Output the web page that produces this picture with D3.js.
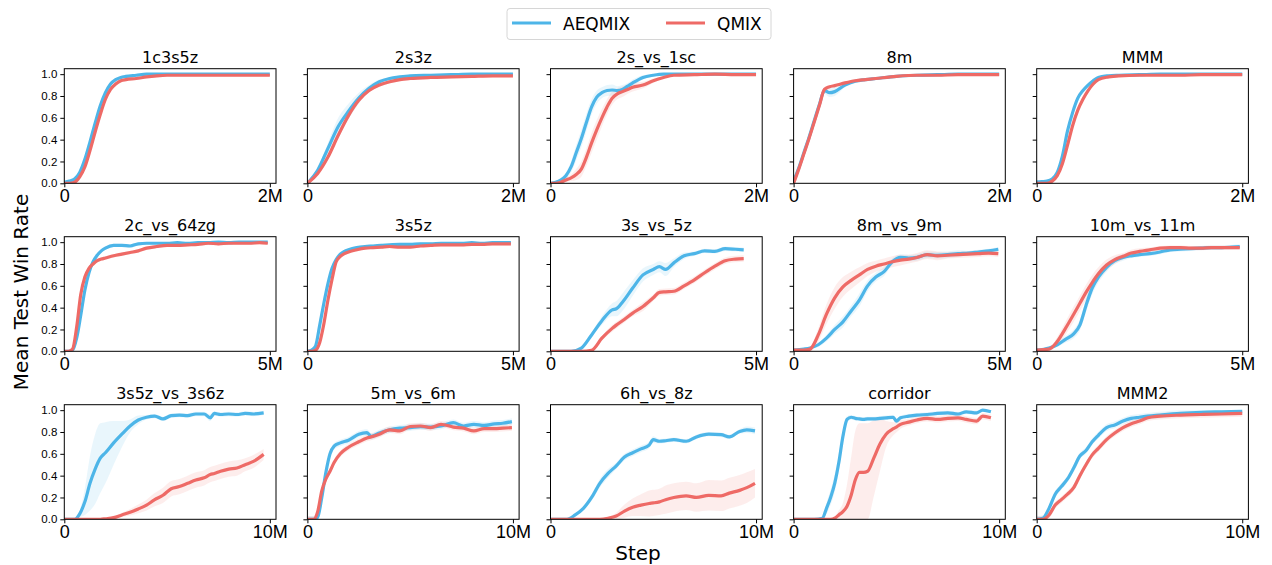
<!DOCTYPE html>
<html>
<head>
<meta charset="utf-8">
<script src="https://cdn.jsdelivr.net/npm/d3@7"></script>
<style>
  body { margin: 0; background: #fff; }
  svg { font-family: "DejaVu Sans", sans-serif; }
</style>
</head>
<body>
<div id="chart"></div>
<script>
// map names, x limit in millions of steps
const maps = ['1c3s5z', '2s3z', '2s_vs_1sc', '8m', 'MMM',
              '2c_vs_64zg', '3s5z', '3s_vs_5z', '8m_vs_9m', '10m_vs_11m',
              '3s5z_vs_3s6z', '5m_vs_6m', '6h_vs_8z', 'corridor', 'MMM2'];
const xMax = [2, 2, 2, 2, 2, 5, 5, 5, 5, 5, 10, 10, 10, 10, 10];
const yTicks = [0, 0.2, 0.4, 0.6, 0.8, 1.0];

// steps (M), AEQMIX mean, QMIX mean, band half-widths
const steps_1c3s5z = [0,0.05,0.1,0.15,0.2,0.25,0.3,0.35,0.4,0.45,0.5,0.55,0.6,0.7,0.8,0.9,1.0,1.2,1.4,1.6,1.8,2.0];
const aeq_1c3s5z  = [0.01,0.02,0.04,0.10,0.22,0.38,0.55,0.71,0.83,0.91,0.95,0.97,0.98,0.99,1.0,1.0,1.0,1.0,1.0,1.0,1.0,1.0];
const qmix_1c3s5z = [0,0,0.01,0.06,0.15,0.30,0.47,0.63,0.77,0.86,0.91,0.94,0.95,0.96,0.975,0.985,0.99,0.99,0.99,0.99,0.99,0.99];

const steps_2s3z = [0,0.1,0.2,0.3,0.4,0.5,0.6,0.7,0.8,0.9,1.0,1.2,1.4,1.6,1.8,2.0];
const aeq_2s3z  = [0,0.12,0.32,0.52,0.66,0.78,0.87,0.93,0.96,0.975,0.985,0.99,0.995,1.0,1.0,1.0];
const qmix_2s3z = [0,0.09,0.24,0.44,0.62,0.76,0.85,0.9,0.93,0.95,0.96,0.97,0.975,0.98,0.985,0.985];
const aeqBand_2s3z = [0,0.02,0.05,0.08,0.07,0.05,0.03,0.02,0.01,0.01,0,0,0,0,0,0];

const steps_2s_vs_1sc = [0,0.05,0.1,0.15,0.2,0.25,0.3,0.35,0.4,0.45,0.5,0.55,0.6,0.65,0.7,0.75,0.8,0.9,1.0,1.1,1.2,1.4,1.6,1.8,2.0];
const aeq_2s_vs_1sc  = [0,0.01,0.03,0.07,0.15,0.28,0.41,0.56,0.70,0.79,0.83,0.85,0.855,0.85,0.86,0.89,0.92,0.97,0.99,1.0,1.0,1.0,1.0,1.0,1.0];
const qmix_2s_vs_1sc = [0,0,0.01,0.03,0.05,0.08,0.13,0.24,0.37,0.49,0.60,0.70,0.78,0.82,0.84,0.86,0.88,0.9,0.94,0.97,0.99,0.995,1.0,0.995,0.995];
const aeqBand_2s_vs_1sc  = [0,0.01,0.02,0.03,0.05,0.07,0.08,0.08,0.07,0.06,0.05,0.05,0.05,0.04,0.04,0.03,0.03,0.02,0.01,0,0,0,0,0,0];
const qmixBand_2s_vs_1sc = [0,0,0.01,0.02,0.03,0.05,0.07,0.08,0.09,0.09,0.08,0.07,0.06,0.05,0.05,0.04,0.04,0.03,0.02,0.01,0.01,0,0,0,0];

const steps_8m = [0,0.05,0.1,0.15,0.2,0.25,0.3,0.35,0.4,0.5,0.6,0.7,0.8,1.0,1.2,1.4,1.6,1.8,2.0];
const aeq_8m  = [0.02,0.14,0.28,0.42,0.57,0.72,0.85,0.83,0.84,0.9,0.935,0.95,0.96,0.98,0.99,0.995,1.0,1.0,1.0];
const qmix_8m = [0,0.13,0.27,0.41,0.56,0.71,0.86,0.885,0.895,0.92,0.94,0.95,0.96,0.98,0.99,0.99,0.995,0.995,0.995];
const aeqBand_8m = [0,0.01,0.01,0.01,0.01,0.02,0.03,0.04,0.04,0.02,0.01,0.01,0.01,0,0,0,0,0,0];

const steps_MMM = [0,0.05,0.1,0.15,0.2,0.25,0.3,0.35,0.4,0.45,0.5,0.55,0.6,0.7,0.8,1.0,1.2,1.4,1.6,1.8,2.0];
const aeq_MMM  = [0.01,0.015,0.02,0.04,0.10,0.25,0.48,0.65,0.78,0.85,0.90,0.94,0.97,0.985,0.99,0.995,1.0,1.0,1.0,1.0,1.0];
const qmix_MMM = [0,0,0,0.02,0.07,0.18,0.35,0.53,0.67,0.77,0.85,0.91,0.95,0.975,0.985,0.99,0.99,0.99,0.995,0.995,0.995];

const steps_2c_vs_64zg = [0,0.1,0.2,0.3,0.4,0.5,0.6,0.7,0.8,0.9,1.0,1.2,1.4,1.6,1.8,2.0,2.25,2.5,2.75,3.0,3.25,3.5,3.75,4.0,4.25,4.5,4.75,4.95];
const aeq_2c_vs_64zg  = [0,0,0.01,0.12,0.33,0.56,0.72,0.82,0.88,0.92,0.945,0.97,0.97,0.965,0.985,0.99,0.99,0.99,0.995,0.99,0.995,0.995,1.0,0.995,1.0,1.0,1.0,1.0];
const qmix_2c_vs_64zg = [0,0,0.02,0.22,0.52,0.68,0.76,0.80,0.83,0.845,0.855,0.875,0.89,0.905,0.92,0.945,0.96,0.97,0.97,0.975,0.98,0.99,0.985,0.99,0.99,0.99,0.995,0.99];

const steps_3s5z = [0,0.1,0.2,0.3,0.4,0.5,0.6,0.7,0.8,0.9,1.0,1.2,1.4,1.6,1.8,2.0,2.25,2.5,2.75,3.0,3.25,3.5,3.75,4.0,4.25,4.5,4.75,4.95];
const aeq_3s5z  = [0,0.01,0.05,0.24,0.44,0.62,0.76,0.84,0.89,0.915,0.93,0.95,0.96,0.965,0.97,0.975,0.98,0.98,0.985,0.985,0.99,0.99,0.99,0.995,0.99,0.995,0.995,0.995];
const qmix_3s5z = [0,0,0.01,0.08,0.25,0.47,0.66,0.82,0.87,0.895,0.91,0.93,0.945,0.95,0.955,0.96,0.955,0.955,0.965,0.97,0.975,0.975,0.975,0.98,0.98,0.985,0.985,0.985];

const steps_3s_vs_5z = [0,0.25,0.5,0.75,1.0,1.25,1.5,1.6,1.75,2.0,2.25,2.5,2.65,2.8,3.0,3.25,3.5,3.75,4.0,4.25,4.5,4.7];
const aeq_3s_vs_5z  = [0,0,0,0.03,0.15,0.28,0.38,0.39,0.45,0.58,0.70,0.75,0.775,0.75,0.81,0.875,0.895,0.92,0.915,0.94,0.935,0.93];
const qmix_3s_vs_5z = [0,0,0,0,0.01,0.12,0.21,0.24,0.28,0.35,0.41,0.49,0.54,0.545,0.55,0.6,0.655,0.72,0.78,0.83,0.845,0.85];
const aeqBand_3s_vs_5z  = [0,0,0,0.01,0.02,0.04,0.06,0.07,0.08,0.07,0.06,0.05,0.05,0.06,0.04,0.03,0.02,0.02,0.02,0.02,0.02,0.02];
const qmixBand_3s_vs_5z = [0,0,0,0,0.01,0.02,0.03,0.03,0.03,0.03,0.04,0.03,0.03,0.03,0.03,0.03,0.03,0.03,0.03,0.03,0.03,0.03];

const steps_8m_vs_9m = [0,0.25,0.4,0.6,0.8,1.0,1.2,1.4,1.6,1.8,2.0,2.2,2.4,2.6,2.8,3.0,3.25,3.5,3.75,4.0,4.25,4.5,4.75,4.98];
const aeq_8m_vs_9m  = [0.01,0.02,0.03,0.06,0.12,0.2,0.27,0.37,0.47,0.6,0.68,0.73,0.82,0.86,0.855,0.86,0.885,0.88,0.885,0.895,0.90,0.91,0.92,0.935];
const qmix_8m_vs_9m = [0.01,0.01,0.02,0.15,0.34,0.49,0.59,0.65,0.70,0.75,0.78,0.80,0.82,0.835,0.845,0.86,0.885,0.875,0.88,0.885,0.89,0.895,0.9,0.895];
const aeqBand_8m_vs_9m  = [0,0.01,0.01,0.02,0.03,0.04,0.05,0.05,0.06,0.05,0.04,0.04,0.03,0.03,0.03,0.03,0.03,0.03,0.03,0.03,0.02,0.02,0.02,0.02];
const qmixBand_8m_vs_9m = [0,0.01,0.02,0.06,0.09,0.1,0.09,0.08,0.07,0.06,0.05,0.05,0.05,0.05,0.04,0.04,0.04,0.04,0.03,0.03,0.03,0.03,0.03,0.03];

const steps_10m_vs_11m = [0,0.3,0.5,0.7,0.9,1.05,1.2,1.35,1.5,1.7,1.9,2.1,2.3,2.5,2.75,3.0,3.25,3.5,3.75,4.0,4.25,4.5,4.75,4.94];
const aeq_10m_vs_11m  = [0.01,0.03,0.06,0.11,0.16,0.24,0.42,0.58,0.68,0.77,0.83,0.86,0.875,0.885,0.895,0.91,0.93,0.935,0.94,0.945,0.95,0.95,0.955,0.96];
const qmix_10m_vs_11m = [0.01,0.02,0.09,0.21,0.34,0.44,0.54,0.63,0.71,0.79,0.84,0.87,0.9,0.915,0.93,0.945,0.95,0.95,0.945,0.945,0.95,0.95,0.95,0.95];
const aeqBand_10m_vs_11m  = [0,0.01,0.02,0.03,0.04,0.05,0.06,0.06,0.05,0.04,0.03,0.03,0.02,0.02,0.02,0.02,0.02,0.02,0.02,0.02,0.02,0.02,0.02,0.02];
const qmixBand_10m_vs_11m = [0,0.01,0.04,0.06,0.07,0.07,0.07,0.07,0.06,0.05,0.04,0.03,0.03,0.03,0.02,0.02,0.02,0.02,0.02,0.02,0.02,0.02,0.02,0.02];

const steps_3s5z_vs_3s6z = [0,0.5,0.75,1.0,1.25,1.5,1.75,2.0,2.4,2.8,3.2,3.6,4.0,4.4,4.8,5.2,5.6,6.0,6.4,6.8,7.1,7.3,7.6,8.0,8.4,8.8,9.2,9.7];
const aeq_3s5z_vs_3s6z  = [0,0,0.05,0.16,0.33,0.46,0.56,0.61,0.70,0.78,0.855,0.91,0.935,0.945,0.92,0.95,0.955,0.95,0.965,0.965,0.93,0.97,0.96,0.965,0.96,0.97,0.965,0.975];
const qmix_3s5z_vs_3s6z = [0,0,0,0,0,0,0,0.005,0.015,0.04,0.065,0.095,0.13,0.18,0.22,0.28,0.3,0.33,0.36,0.38,0.41,0.42,0.44,0.46,0.47,0.5,0.53,0.595];
const aeqBand_3s5z_vs_3s6z  = [0,0,0.03,0.12,0.25,0.32,0.32,0.28,0.2,0.12,0.06,0.04,0.02,0.02,0.02,0.02,0.02,0.02,0.02,0.02,0.03,0.02,0.02,0.02,0.02,0.02,0.02,0.02];
const qmixBand_3s5z_vs_3s6z = [0,0,0,0,0,0,0,0.005,0.01,0.02,0.03,0.04,0.05,0.06,0.07,0.07,0.07,0.07,0.07,0.07,0.07,0.07,0.07,0.07,0.07,0.06,0.06,0.05];

const steps_5m_vs_6m = [0,0.3,0.5,0.7,0.9,1.1,1.3,1.6,2.0,2.5,2.9,3.1,3.5,4.0,4.5,5.0,5.5,6.0,6.5,7.1,7.6,8.1,8.6,9.1,9.5,9.95];
const aeq_5m_vs_6m  = [0,0,0.02,0.2,0.43,0.6,0.67,0.70,0.725,0.78,0.795,0.76,0.79,0.82,0.835,0.84,0.85,0.845,0.855,0.885,0.855,0.87,0.86,0.875,0.88,0.895];
const qmix_5m_vs_6m = [0,0,0.07,0.26,0.37,0.44,0.52,0.6,0.66,0.71,0.745,0.755,0.78,0.82,0.81,0.85,0.855,0.84,0.87,0.845,0.835,0.81,0.83,0.83,0.835,0.84];

const steps_6h_vs_8z = [0,0.8,1.2,1.6,2.0,2.4,2.8,3.2,3.6,4.0,4.4,4.8,5.0,5.3,5.6,6.0,6.6,7.1,7.7,8.3,8.7,9.2,9.55,9.95];
const aeq_6h_vs_8z  = [0,0,0.04,0.1,0.2,0.33,0.42,0.49,0.57,0.61,0.645,0.68,0.73,0.715,0.72,0.73,0.715,0.755,0.78,0.775,0.755,0.805,0.82,0.81];
const qmix_6h_vs_8z = [0,0,0,0,0,0,0.01,0.03,0.075,0.11,0.13,0.145,0.15,0.16,0.18,0.2,0.215,0.2,0.22,0.215,0.24,0.265,0.29,0.33];
const aeqBand_6h_vs_8z  = [0,0,0.01,0.02,0.03,0.04,0.04,0.03,0.03,0.03,0.03,0.03,0.03,0.02,0.02,0.02,0.02,0.02,0.02,0.02,0.02,0.02,0.03,0.03];
const qmixBand_6h_vs_8z = [0,0,0,0,0,0,0.01,0.03,0.06,0.08,0.1,0.12,0.12,0.12,0.13,0.13,0.13,0.13,0.14,0.14,0.14,0.14,0.14,0.13];

const steps_corridor = [0,1.0,1.4,1.6,1.8,2.0,2.2,2.4,2.6,2.8,3.0,3.2,3.4,3.6,3.9,4.2,4.5,4.85,5.0,5.2,5.6,6.0,6.5,7.0,7.5,8.0,8.4,8.9,9.2,9.6];
const aeq_corridor  = [0,0,0.01,0.1,0.2,0.33,0.52,0.76,0.915,0.935,0.925,0.92,0.915,0.92,0.92,0.925,0.93,0.935,0.9,0.93,0.945,0.955,0.96,0.97,0.975,0.965,0.985,0.975,1.0,0.985];
const qmix_corridor = [0,0,0,0,0,0.01,0.04,0.07,0.12,0.22,0.36,0.43,0.43,0.44,0.56,0.69,0.78,0.83,0.845,0.87,0.89,0.91,0.925,0.915,0.925,0.93,0.915,0.9,0.945,0.93];
const aeqBand_corridor  = [0,0,0.01,0.05,0.07,0.08,0.08,0.06,0.03,0.02,0.02,0.02,0.02,0.02,0.02,0.02,0.02,0.02,0.02,0.02,0.02,0.02,0.02,0.02,0.02,0.02,0.02,0.02,0.01,0.01];
const qmixBand_corridor = [0,0,0,0,0,0.01,0.04,0.08,0.2,0.35,0.45,0.45,0.45,0.44,0.35,0.25,0.12,0.06,0.05,0.04,0.03,0.03,0.03,0.03,0.03,0.03,0.03,0.03,0.03,0.03];

const steps_MMM2 = [0,0.3,0.6,0.9,1.2,1.5,1.8,2.1,2.4,2.7,3.0,3.4,3.8,4.2,4.6,5.0,5.4,6.0,7.0,8.0,9.0,10.0];
const aeq_MMM2  = [0,0.01,0.1,0.23,0.3,0.37,0.47,0.58,0.63,0.71,0.77,0.84,0.865,0.9,0.925,0.935,0.945,0.955,0.97,0.98,0.985,0.99];
const qmix_MMM2 = [0,0,0.04,0.13,0.18,0.23,0.29,0.4,0.5,0.59,0.65,0.73,0.79,0.84,0.875,0.9,0.93,0.945,0.955,0.96,0.965,0.97];

const panels = [
  [steps_1c3s5z, aeq_1c3s5z, qmix_1c3s5z, 0.015, 0.01],
  [steps_2s3z, aeq_2s3z, qmix_2s3z, aeqBand_2s3z, 0.015],
  [steps_2s_vs_1sc, aeq_2s_vs_1sc, qmix_2s_vs_1sc, aeqBand_2s_vs_1sc, qmixBand_2s_vs_1sc],
  [steps_8m, aeq_8m, qmix_8m, aeqBand_8m, 0.01],
  [steps_MMM, aeq_MMM, qmix_MMM, 0.015, 0.01],
  [steps_2c_vs_64zg, aeq_2c_vs_64zg, qmix_2c_vs_64zg, 0.015, 0.015],
  [steps_3s5z, aeq_3s5z, qmix_3s5z, 0.015, 0.015],
  [steps_3s_vs_5z, aeq_3s_vs_5z, qmix_3s_vs_5z, aeqBand_3s_vs_5z, qmixBand_3s_vs_5z],
  [steps_8m_vs_9m, aeq_8m_vs_9m, qmix_8m_vs_9m, aeqBand_8m_vs_9m, qmixBand_8m_vs_9m],
  [steps_10m_vs_11m, aeq_10m_vs_11m, qmix_10m_vs_11m, aeqBand_10m_vs_11m, qmixBand_10m_vs_11m],
  [steps_3s5z_vs_3s6z, aeq_3s5z_vs_3s6z, qmix_3s5z_vs_3s6z, aeqBand_3s5z_vs_3s6z, qmixBand_3s5z_vs_3s6z],
  [steps_5m_vs_6m, aeq_5m_vs_6m, qmix_5m_vs_6m, 0.03, 0.03],
  [steps_6h_vs_8z, aeq_6h_vs_8z, qmix_6h_vs_8z, aeqBand_6h_vs_8z, qmixBand_6h_vs_8z],
  [steps_corridor, aeq_corridor, qmix_corridor, aeqBand_corridor, qmixBand_corridor],
  [steps_MMM2, aeq_MMM2, qmix_MMM2, 0.03, 0.03]
];

const blue = '#4db5e8';
const red = '#ee6a66';

const width = 1272, height = 565;
const left0 = 64.3, colStep = 243.1, pw = 211.7;
const rowTops = [68.7, 236.7, 404.7], ph = 114.6;

const svg = d3.select('#chart').append('svg')
  .attr('width', width)
  .attr('height', height);

const defs = svg.append('defs');

panels.forEach((p, i) => {
  const col = i % 5, row = Math.floor(i / 5);
  const x0 = left0 + col * colStep, y0 = rowTops[row];
  const [steps, aeq, qmix, aeqBand, qmixBand] = p;

  const x = d3.scaleLinear().domain([0, xMax[i] * 1.03]).range([x0, x0 + pw]);
  const y = d3.scaleLinear().domain([0, 1.05]).range([y0 + ph, y0]);

  defs.append('clipPath').attr('id', 'clip' + i)
    .append('rect').attr('x', x0).attr('y', y0).attr('width', pw).attr('height', ph);

  const g = svg.append('g');
  const plot = g.append('g').attr('clip-path', `url(#clip${i})`);

  const series = [
    { mean: aeq, band: aeqBand, color: blue },
    { mean: qmix, band: qmixBand, color: red }
  ];

  // bands first
  series.forEach(s => {
    const pts = steps.map((st, j) => {
      const b = Array.isArray(s.band) ? s.band[j] : s.band;
      return [st, Math.max(0, s.mean[j] - b), Math.min(1, s.mean[j] + b)];
    });
    plot.append('path')
      .attr('d', d3.area().curve(d3.curveMonotoneX)
        .x(d => x(d[0])).y0(d => y(d[1])).y1(d => y(d[2]))(pts))
      .attr('fill', s.color)
      .attr('fill-opacity', 0.12);
  });

  series.forEach(s => {
    plot.append('path')
      .attr('d', d3.line().curve(d3.curveMonotoneX)
        .x(d => x(d[0])).y(d => y(d[1]))(steps.map((st, j) => [st, s.mean[j]])))
      .attr('fill', 'none')
      .attr('stroke', s.color)
      .attr('stroke-width', 3.2)
      .attr('stroke-linejoin', 'round');
  });

  // y axis
  const yAxis = d3.axisLeft(y).tickValues(yTicks).tickSize(4).tickPadding(3)
    .tickFormat(col === 0 ? d3.format('.1f') : '');
  const ya = g.append('g').attr('transform', `translate(${x0},0)`).call(yAxis);
  ya.select('.domain').remove();
  ya.selectAll('text').style('font-size', '11.5px').attr('fill', '#000');

  // x axis
  const xAxis = d3.axisBottom(x).tickValues([0, xMax[i]]).tickSize(4).tickPadding(2)
    .tickFormat(d => d === 0 ? '0' : d + 'M');
  const xa = g.append('g').attr('transform', `translate(0,${y0 + ph})`).call(xAxis);
  xa.select('.domain').remove();
  xa.selectAll('text').style('font-size', '18px').attr('fill', '#000');

  g.append('rect')
    .attr('x', x0).attr('y', y0).attr('width', pw).attr('height', ph)
    .attr('fill', 'none').attr('stroke', '#000').attr('stroke-width', 1);

  g.append('text')
    .attr('x', x0 + pw / 2).attr('y', y0 - 6)
    .attr('text-anchor', 'middle')
    .style('font-size', '16px')
    .text(maps[i]);
});

// axis titles
svg.append('text')
  .attr('transform', 'translate(28,292) rotate(-90)')
  .attr('text-anchor', 'middle')
  .style('font-size', '20px')
  .text('Mean Test Win Rate');

svg.append('text')
  .attr('x', 638).attr('y', 560)
  .attr('text-anchor', 'middle')
  .style('font-size', '20px')
  .text('Step');

// legend
const legend = svg.append('g');
legend.append('rect')
  .attr('x', 507).attr('y', 8.5).attr('width', 264).attr('height', 31).attr('rx', 3)
  .attr('fill', '#fff').attr('stroke', '#d6d6d6');
[['AEQMIX', blue, 512], ['QMIX', red, 666]].forEach(([name, c, lx]) => {
  legend.append('line')
    .attr('x1', lx).attr('x2', lx + 39).attr('y1', 23).attr('y2', 23)
    .attr('stroke', c).attr('stroke-width', 3.2);
  legend.append('text')
    .attr('x', lx + 51).attr('y', 29.5)
    .style('font-size', '17px')
    .text(name);
});
</script>
</body>
</html>
